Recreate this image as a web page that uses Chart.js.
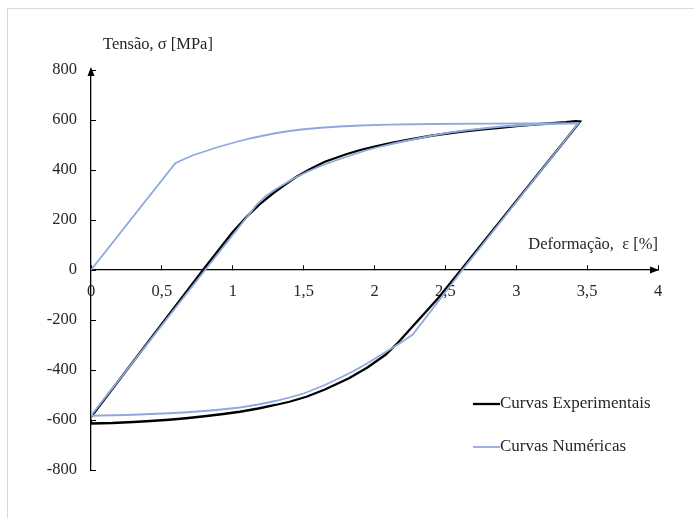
<!DOCTYPE html>
<html>
<head>
<meta charset="utf-8">
<script src="https://cdn.jsdelivr.net/npm/chart.js@4.4.0/dist/chart.umd.min.js"></script>
<style>
  body { margin: 0; background: #fff; }
  #wrap { position: relative; width: 694px; height: 518px; overflow: hidden; }
  #frame { position: absolute; left: 7px; top: 8px; right: -2px; bottom: -2px;
           border-top: 1px solid #d9d9d9; border-left: 1px solid #d9d9d9; }
  canvas { position: absolute; left: 0; top: 0; }
</style>
</head>
<body>
<div id="wrap"><div id="frame"></div><canvas id="chart" width="694" height="518"></canvas></div>
<script>

const seriesNames = ['Curvas Experimentais', 'Curvas Numéricas'];
const xTitle = 'Deformação,  ε [%]';
const yTitle = 'Tensão, σ [MPa]';

// experimental loop (reload, top, unload)
const expStrain = [0, 0.79, 1.0, 1.1, 1.2, 1.28, 1.36, 1.45, 1.55, 1.65, 1.8, 1.9, 2.0, 2.12, 2.25, 2.4, 2.5, 2.62, 2.75, 2.9, 3.0, 3.15, 3.25, 3.35, 3.42, 3.45,
                   3.44, 2.61, 2.45, 2.35, 2.27, 2.17, 2.08, 1.95, 1.82, 1.65, 1.52, 1.4, 1.3, 1.18, 1.05, 0.92, 0.8, 0.67, 0.55, 0.42, 0.3, 0.15, 0, 0];
const expStress = [-588, 0, 152, 214, 268, 305, 338, 373, 405, 433, 463, 480, 494, 508, 522, 537, 545, 554, 562, 570, 576, 583, 587, 591, 595, 594,
                   586, 0, -112, -175, -225, -288, -338, -390, -433, -478, -507, -527, -540, -554, -567, -577, -585, -593, -599, -604, -608, -612, -614, -598];

// numerical curve (first loading, unload, reload)
const numStrain = [0, 0.595, 0.65, 0.72, 0.8, 0.88, 0.96, 1.05, 1.13, 1.22, 1.31, 1.4, 1.5, 1.62, 1.75, 1.9, 2.1, 2.4, 2.8, 3.1, 3.44,
                   2.62, 2.27, 2.2, 2.13, 2.05, 1.95, 1.85, 1.75, 1.65, 1.5, 1.4, 1.3, 1.18, 1.05, 0.92, 0.8, 0.68, 0.55, 0.42, 0.3, 0.15, 0,
                   0.805, 1.17, 1.23, 1.3, 1.37, 1.45, 1.53, 1.62, 1.72, 1.83, 1.95, 2.05, 2.15, 2.27, 2.4, 2.52, 2.65, 2.78, 2.9, 3.03, 3.15, 3.3, 3.44];
const numStress = [0, 427, 442, 459, 474, 489, 502, 516, 527, 538, 548, 556, 563, 569, 574, 578, 581.5, 584, 585.5, 586, 587,
                   0, -258, -285, -310, -338, -373, -405, -433, -460, -494, -510, -524, -538, -550, -558, -564, -569, -573, -576, -579, -581, -583,
                   0, 262, 294, 322, 346, 372, 394, 416, 437, 458, 480, 495, 508, 522, 537, 549, 559, 567, 574, 578, 582, 585, 587];

const xMin = 0, xMax = 4, xStep = 0.5;
const yMin = -800, yMax = 800, yStep = 200;

const serif = "'Liberation Serif', 'Times New Roman', serif";
const textColor = '#262626';
const colors = ['#000000', '#8eaadb'];

function pts(xs, ys) {
    return xs.map((x, i) => ({x, y: ys[i]}));
}

const decor = {
    id: 'decor',
    afterDraw(chart) {
        const ctx = chart.ctx;
        const xs = chart.scales.x, ys = chart.scales.y;
        const x0 = xs.getPixelForValue(0), y0 = ys.getPixelForValue(0);
        const top = ys.getPixelForValue(yMax), right = xs.getPixelForValue(xMax);
        ctx.save();
        ctx.fillStyle = '#000';
        // arrow heads
        ctx.beginPath();
        ctx.moveTo(x0, top - 3);
        ctx.lineTo(x0 - 3.5, top + 6);
        ctx.lineTo(x0 + 3.5, top + 6);
        ctx.closePath();
        ctx.fill();
        ctx.beginPath();
        ctx.moveTo(right + 1, y0);
        ctx.lineTo(right - 8, y0 - 3.5);
        ctx.lineTo(right - 8, y0 + 3.5);
        ctx.closePath();
        ctx.fill();
        // axis titles
        ctx.fillStyle = textColor;
        ctx.font = '16.5px ' + serif;
        ctx.textBaseline = 'middle';
        ctx.textAlign = 'left';
        ctx.fillText(yTitle, x0 + 12, 45);
        ctx.textAlign = 'right';
        ctx.fillText(xTitle, right, y0 - 25);
        // legend
        ctx.font = '17px ' + serif;
        ctx.textAlign = 'left';
        chart.data.datasets.forEach((ds, i) => {
            const ly = 404 + i * 43;
            ctx.strokeStyle = ds.borderColor;
            ctx.lineWidth = ds.borderWidth;
            ctx.beginPath();
            ctx.moveTo(473, ly);
            ctx.lineTo(500, ly);
            ctx.stroke();
            ctx.fillText(ds.label, 500, ly);
        });
        ctx.restore();
    }
};

new Chart(document.getElementById('chart').getContext('2d'), {
    type: 'scatter',
    plugins: [decor],
    data: {
        datasets: [{
            label: seriesNames[0],
            data: pts(expStrain, expStress),
            borderColor: colors[0],
            borderWidth: 2.3,
            showLine: true,
            pointRadius: 0,
            order: 2
        }, {
            label: seriesNames[1],
            data: pts(numStrain, numStress),
            borderColor: colors[1],
            borderWidth: 1.8,
            showLine: true,
            pointRadius: 0,
            order: 1
        }]
    },
    options: {
        responsive: false,
        animation: false,
        layout: {
            padding: {left: 8, right: 36, top: 70, bottom: 48}
        },
        plugins: {
            legend: {display: false},
            tooltip: {enabled: false}
        },
        scales: {
            x: {
                type: 'linear',
                position: {y: 0},
                min: xMin,
                max: xMax,
                grid: {drawOnChartArea: false, drawTicks: true, tickLength: -5, color: '#000'},
                border: {display: true, color: '#000', width: 1.3},
                ticks: {
                    stepSize: xStep,
                    padding: 17,
                    maxRotation: 0,
                    autoSkip: false,
                    color: textColor,
                    font: {family: serif, size: 16.5},
                    callback: (v) => String(v).replace('.', ',')
                }
            },
            y: {
                type: 'linear',
                position: 'left',
                min: yMin,
                max: yMax,
                afterFit: (scale) => { scale.width = 83; },
                grid: {drawOnChartArea: false, drawTicks: true, tickLength: -5, color: '#000'},
                border: {display: true, color: '#000', width: 1.3},
                ticks: {
                    stepSize: yStep,
                    padding: 19,
                    color: textColor,
                    font: {family: serif, size: 16.5}
                }
            }
        }
    }
});
</script>
</body>
</html>
